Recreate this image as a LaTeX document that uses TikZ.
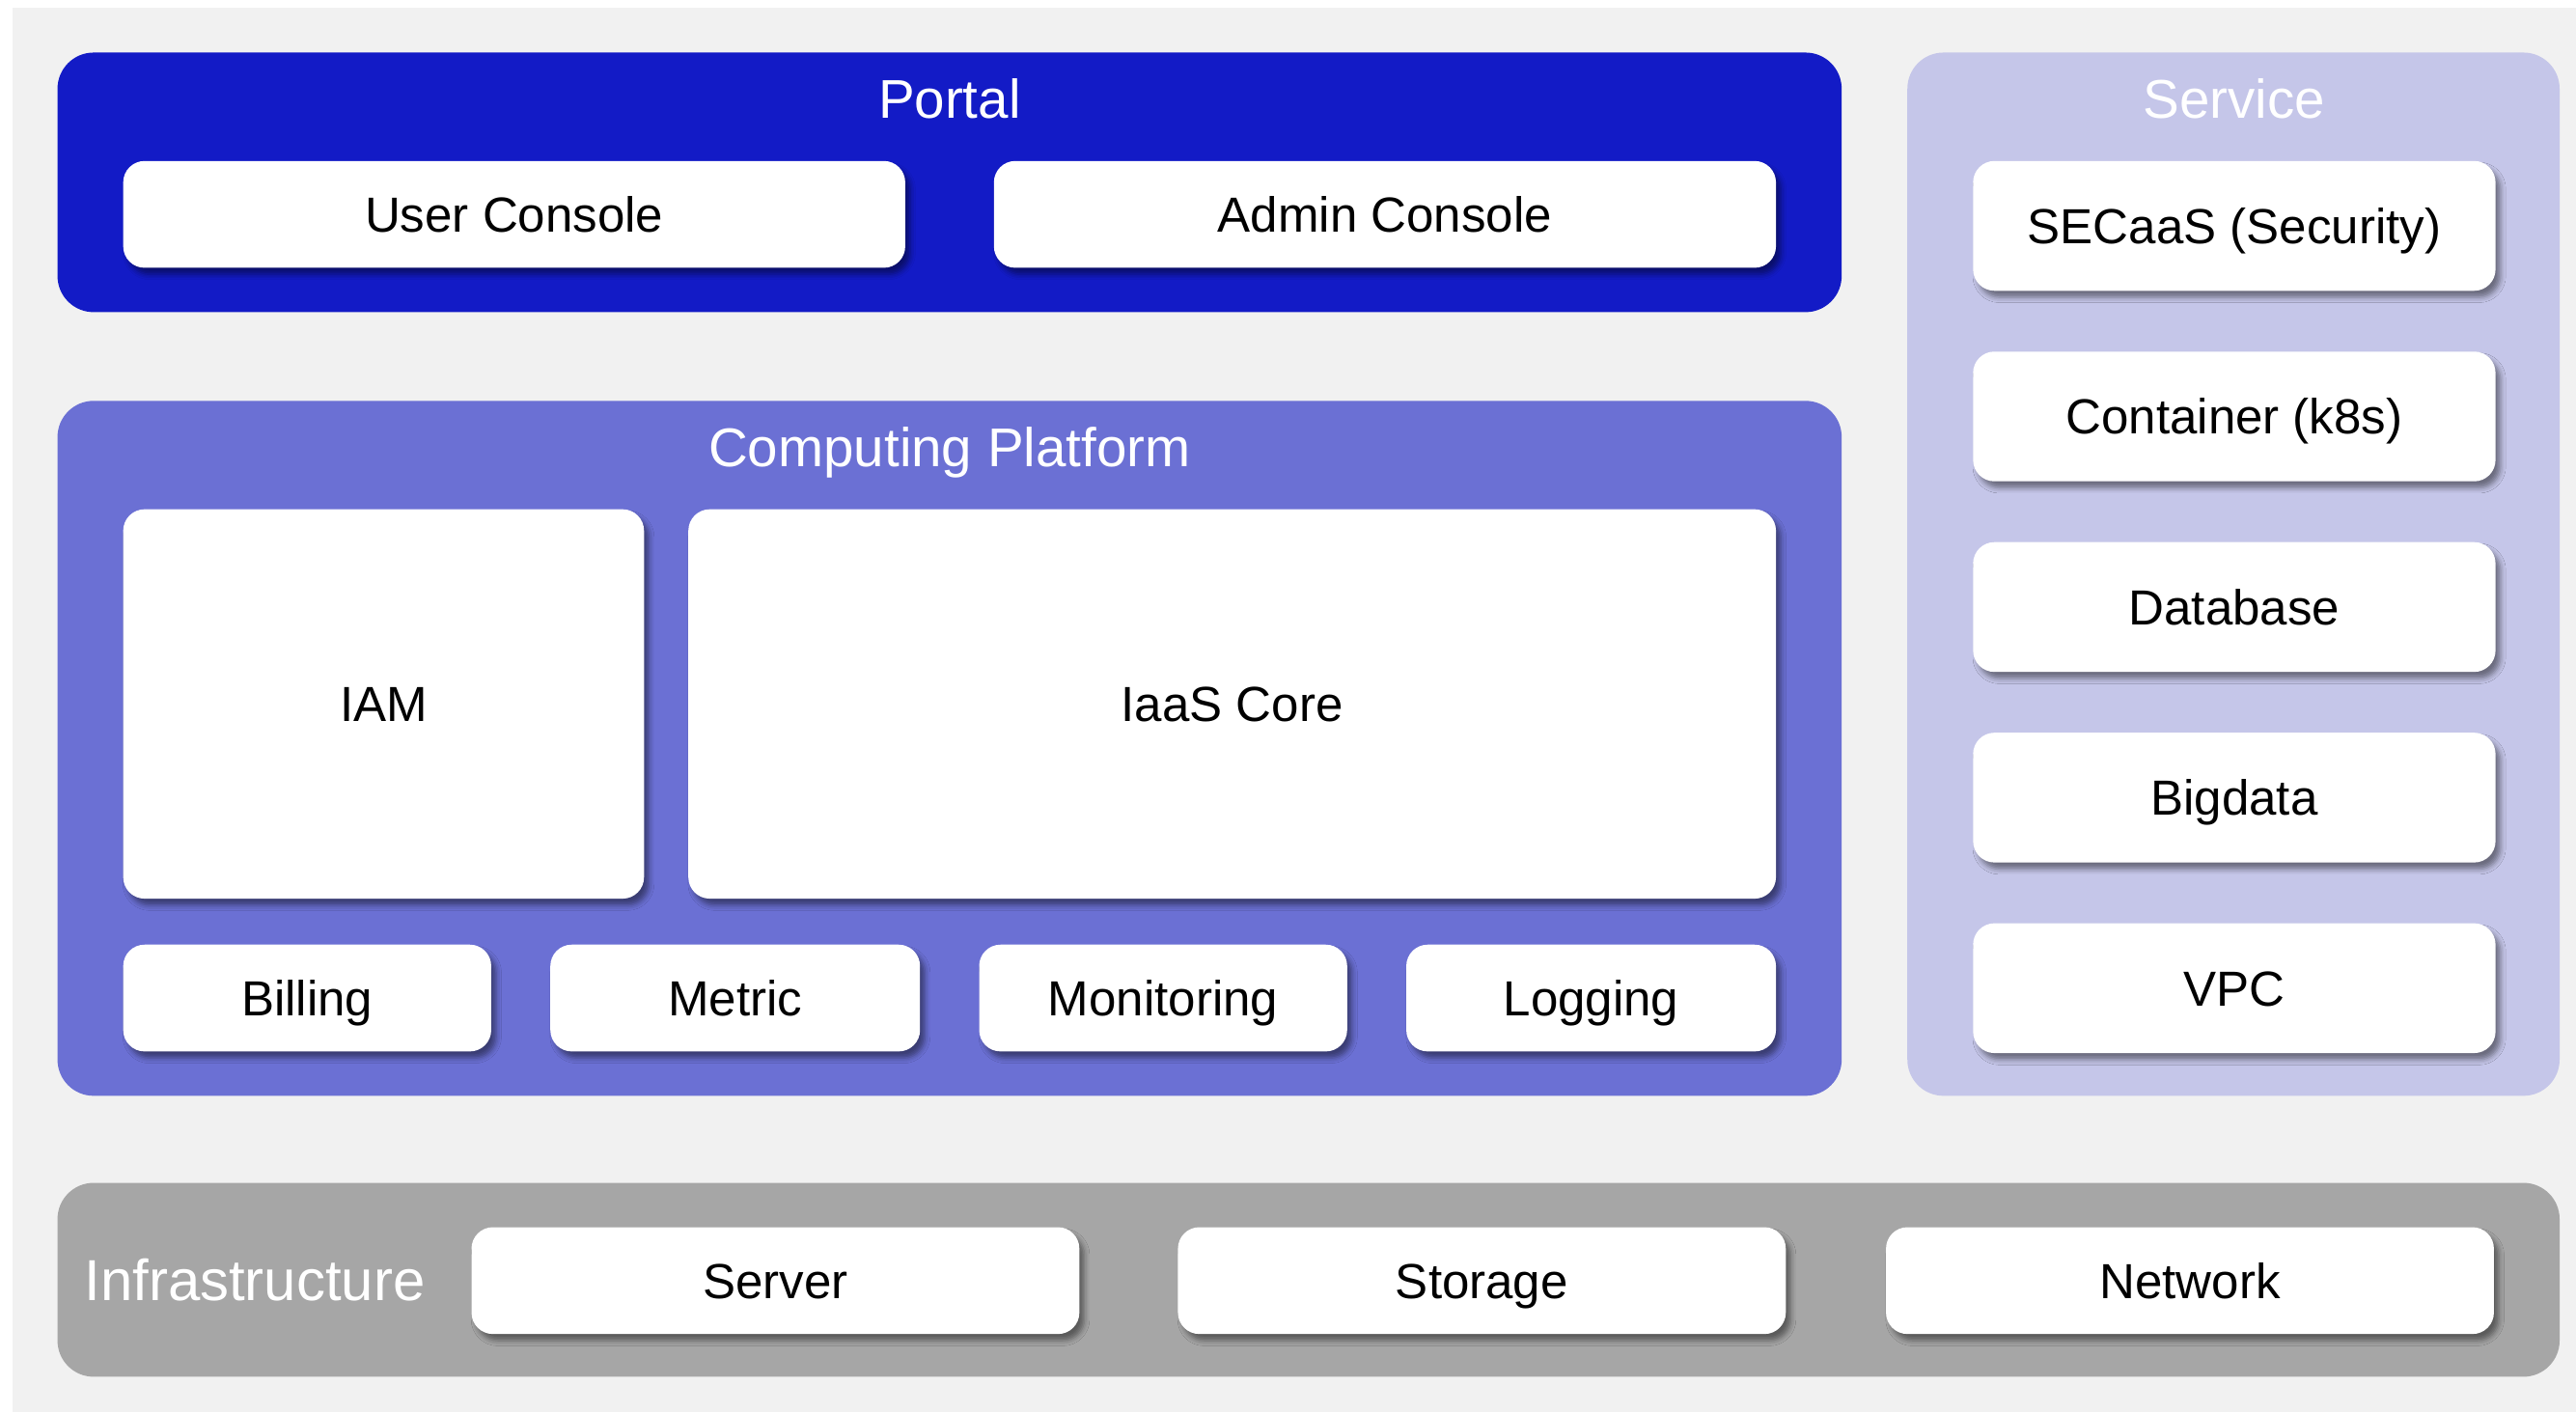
\documentclass[tikz,border=0pt]{standalone}
\usepackage{fontspec}
\setmainfont{Liberation Sans}
\usetikzlibrary{fit,shadows.blur}
\definecolor{bgc}{HTML}{F1F1F1}
\definecolor{portalc}{HTML}{131BC6}
\definecolor{compc}{HTML}{6B70D4}
\definecolor{servc}{HTML}{C5C6E9}
\definecolor{infrac}{HTML}{A6A6A6}
\tikzset{
  panel/.style={rounded corners=11pt, inner sep=0pt, draw=none},
  wbox/.style={fill=white, rounded corners=6.5pt, inner sep=0pt,
    blur shadow={shadow xshift=1.5pt, shadow yshift=-2pt, shadow blur radius=1.6pt, shadow opacity=45},
    font=\fontsize{15}{18}\selectfont, text height=10.7pt, text depth=0pt},
  ttl/.style={text=white, font=\fontsize{16.6}{20}\selectfont, inner sep=0pt, text height=11.9pt, text depth=0pt},
}
% \wb{name}{x1}{y1}{x2}{y2}{text}
\newcommand\wb[6]{\node[wbox, minimum width={(#4-#2)*0.5pt}, minimum height={(#5-#3)*0.5pt}] (#1) at ({(#2+#4)/2},{(#3+#5)/2}) {#6};}
\begin{document}
\begin{tikzpicture}[x=0.5pt,y=-0.5pt]
\useasboundingbox (0,0) rectangle (1568,859.5);
\fill[white] (0,0) rectangle (1568,859.5);
\fill[bgc] (7.6,4.7) rectangle (1568,859.5);

% Portal
\node[panel, fill=portalc, fit={(35,32) (1121,190)}] (portal) {};
\node[ttl] (portaltitle) at (578,60) {Portal};
\wb{user}{75}{98}{551}{163}{User Console}
\wb{admin}{605}{98}{1081}{163}{Admin Console}

% Computing Platform
\node[panel, fill=compc, fit={(35,244) (1121,667)}] (comp) {};
\node[ttl] (comptitle) at (578,272) {Computing Platform};
\wb{iam}{75}{310}{392}{547}{IAM}
\wb{iaas}{419}{310}{1081}{547}{IaaS Core}
\wb{billing}{75}{575}{299}{640}{Billing}
\wb{metric}{335}{575}{560}{640}{Metric}
\wb{monitoring}{596}{575}{820}{640}{Monitoring}
\wb{logging}{856}{575}{1081}{640}{Logging}

% Service
\node[panel, fill=servc, fit={(1161,32) (1558,667)}] (service) {};
\node[ttl] (servicetitle) at (1360,60) {Service};
\wb{secaas}{1201}{98}{1519}{177}{SECaaS (Security)}
\wb{container}{1201}{214}{1519}{293}{Container (k8s)}
\wb{database}{1201}{330}{1519}{409}{Database}
\wb{bigdata}{1201}{446}{1519}{525}{Bigdata}
\wb{vpc}{1201}{562}{1519}{641}{VPC}

% Infrastructure
\node[panel, fill=infrac, fit={(35,720) (1558,838)}] (infra) {};
\node[ttl, anchor=west, font=\fontsize{17.6}{21}\selectfont, text height=12.6pt] (infratitle) at (51,779) {Infrastructure};
\wb{server}{287}{747}{657}{812}{Server}
\wb{storage}{717}{747}{1087}{812}{Storage}
\wb{network}{1148}{747}{1518}{812}{Network}
\end{tikzpicture}
\end{document}
